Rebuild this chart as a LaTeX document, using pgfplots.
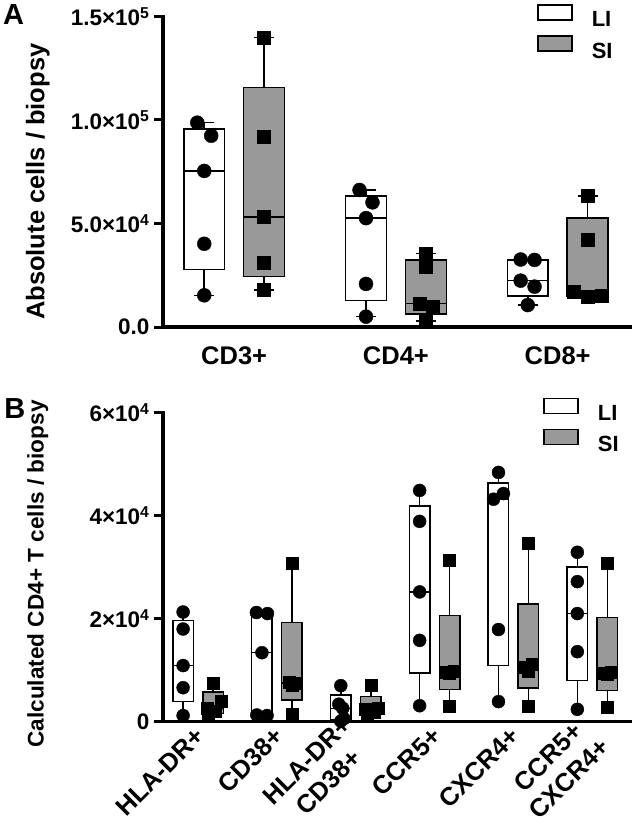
\documentclass[border=0pt]{standalone}
\usepackage{fontspec}
\setmainfont{Liberation Sans}
\usepackage{pgfplots}
\pgfplotsset{compat=1.18}
\definecolor{sigray}{RGB}{153,153,153}
\newcommand\tickfont{\fontsize{22.5}{24}\selectfont\bfseries}
\newcommand\legfont{\fontsize{22}{24}\selectfont\bfseries}
\newcommand\catfont{\fontsize{25.5}{30}\selectfont\bfseries}
\pgfplotsset{
  panel/.style={
    scale only axis, width=467pt,
    axis lines=left,
    axis line style={-, line width=3.5pt, line cap=rect},
    tick align=outside,
    major tick length=9pt,
    ytick style={line width=3pt, black},
    xtick style={draw=none},
    scaled y ticks=false,
    clip=false,
    unbounded coords=jump,
    yticklabel style={font=\tickfont, xshift=-1pt},
    xticklabel style={font=\catfont},
    legend cell align=left,
    legend style={draw=none, fill=none, font=\legfont, inner sep=0pt,
      row sep=7pt, anchor=north west,
      nodes={inner sep=0pt, outer sep=0pt}},
    /tikz/every odd column/.append style={column sep=19pt},
  },
  LIbox/.style={draw=black, fill=white, line width=1.5pt, forget plot, solid, mark=none},
  SIbox/.style={draw=black, fill=sigray, line width=1.5pt, forget plot, solid, mark=none},
  wline/.style={draw=black, line width=1.5pt, forget plot, solid, mark=none},
  LIleg/.style={legend image code/.code={\draw[black,line width=1.5pt,fill=white] (0pt,0pt) rectangle (34pt,15pt);}},
  SIleg/.style={legend image code/.code={\draw[black,line width=1.5pt,fill=sigray] (0pt,0pt) rectangle (34pt,15pt);}},
}
\begin{document}
\begin{tikzpicture}
\useasboundingbox (-163pt,-508pt) rectangle (470pt,327pt);
% ---------------- Panel A (values in thousands of cells) ----------------
\begin{axis}[panel, height=310.5pt, at={(0pt,0pt)}, anchor=south west,
  xmin=-0.44, xmax=2.447, ymin=0, ymax=150,
  xtick={0,1,2}, xticklabels={CD3+, CD4+, CD8+},
  xticklabel style={yshift=-7pt},
  ytick={0,50,100,150},
  yticklabels={0.0, 5.0×10\textsuperscript{4}, 1.0×10\textsuperscript{5}, 1.5×10\textsuperscript{5}},
  ylabel={Absolute cells / biopsy},
  ylabel style={font=\fontsize{25.5}{27}\selectfont\bfseries, at={(axis description cs:-0.268,0.468)}, anchor=center},
  legend style={at={(axis description cs:0.801,1.040)}},
]
\addlegendimage{LIleg}\addlegendentry{LI}
\addlegendimage{SIleg}\addlegendentry{SI}
% whiskers (min to max) with caps
\addplot[wline] coordinates {
 (-0.185,15.3) (-0.185,27.8) (nan,nan) (-0.185,95.6) (-0.185,98.7) (nan,nan)
 (-0.247,15.3) (-0.123,15.3) (nan,nan) (-0.247,98.7) (-0.123,98.7) (nan,nan)
 (0.185,17.9) (0.185,24.4) (nan,nan) (0.185,115.8) (0.185,139.8) (nan,nan)
 (0.123,17.9) (0.247,17.9) (nan,nan) (0.123,139.8) (0.247,139.8) (nan,nan)
 (0.815,5.0) (0.815,12.9) (nan,nan) (0.815,63.2) (0.815,66.2) (nan,nan)
 (0.753,5.0) (0.877,5.0) (nan,nan) (0.753,66.2) (0.877,66.2) (nan,nan)
 (1.185,2.9) (1.185,6.4) (nan,nan) (1.185,32.4) (1.185,35.6) (nan,nan)
 (1.123,2.9) (1.247,2.9) (nan,nan) (1.123,35.6) (1.247,35.6) (nan,nan)
 (1.815,10.6) (1.815,15.0) (nan,nan) (1.753,10.6) (1.877,10.6) (nan,nan)
 (1.753,32.6) (1.877,32.6) (nan,nan)
 (2.185,52.65) (2.185,63.3) (nan,nan) (2.123,63.3) (2.247,63.3) (nan,nan)
 (2.123,14.6) (2.247,14.6)};
% boxes (lower quartile to upper quartile)
\addplot[LIbox] coordinates {(-0.3115,27.8) (-0.0585,27.8) (-0.0585,95.6) (-0.3115,95.6)} --cycle;
\addplot[SIbox] coordinates {(0.0585,24.4) (0.3115,24.4) (0.3115,115.8) (0.0585,115.8)} --cycle;
\addplot[LIbox] coordinates {(0.6885,12.9) (0.9415,12.9) (0.9415,63.2) (0.6885,63.2)} --cycle;
\addplot[SIbox] coordinates {(1.0585,6.4) (1.3115,6.4) (1.3115,32.4) (1.0585,32.4)} --cycle;
\addplot[LIbox] coordinates {(1.6885,15.0) (1.9415,15.0) (1.9415,32.45) (1.6885,32.45)} --cycle;
\addplot[SIbox] coordinates {(2.0585,14.85) (2.3115,14.85) (2.3115,52.65) (2.0585,52.65)} --cycle;
% medians
\addplot[wline] coordinates {
 (-0.3115,75.4) (-0.0585,75.4) (nan,nan) (0.0585,53.1) (0.3115,53.1) (nan,nan)
 (0.6885,52.6) (0.9415,52.6) (nan,nan) (1.0585,11.4) (1.3115,11.4) (nan,nan)
 (1.6885,22.4) (1.9415,22.4) (nan,nan) (2.0585,17.1) (2.3115,17.1)};
% points LI
\addplot[only marks, mark=*, mark size=7pt, black, forget plot] coordinates {
 (-0.228,98.7) (-0.142,92.4) (-0.185,75.4) (-0.185,40.2) (-0.185,15.3)
 (0.775,66.2) (0.855,60.2) (0.815,52.6) (0.815,20.8) (0.815,5.0)
 (1.771,32.6) (1.857,32.4) (1.771,22.4) (1.857,19.5) (1.815,10.6)};
% points SI
\addplot[only marks, mark=square*, mark size=6.5pt, black, forget plot] coordinates {
 (0.185,139.8) (0.185,91.9) (0.185,53.1) (0.185,30.9) (0.185,17.9)
 (1.185,35.6) (1.185,29.2) (1.144,11.4) (1.230,9.8) (1.185,2.9)
 (2.185,63.3) (2.185,42.0) (2.101,17.1) (2.185,14.6) (2.272,15.1)};
\node[font=\fontsize{29}{30}\selectfont\bfseries] at (axis description cs:-0.32,1.006) {A};
\end{axis}
% ---------------- Panel B (values in thousands of cells) ----------------
\begin{axis}[panel, height=309pt, at={(0pt,-394.7pt)}, anchor=south west,
  xmin=-0.445, xmax=5.478, ymin=0, ymax=60,
  xtick={0,1,2,3,4,5},
  xticklabels={HLA-DR+, CD38+, {HLA-DR+\\CD38+}, CCR5+, CXCR4+, {CCR5+\\CXCR4+}},
  xticklabel style={rotate=45, anchor=east, align=center, yshift=-2pt, xshift=4pt},
  ytick={0,20,40,60},
  yticklabels={0, 2×10\textsuperscript{4}, 4×10\textsuperscript{4}, 6×10\textsuperscript{4}},
  ylabel={Calculated CD4+ T cells / biopsy},
  ylabel style={font=\fontsize{22.6}{24}\selectfont\bfseries, at={(axis description cs:-0.268,0.478)}, anchor=center},
  legend style={at={(axis description cs:0.814,1.049)}},
]
\addlegendimage{LIleg}\addlegendentry{LI}
\addlegendimage{SIleg}\addlegendentry{SI}
% whiskers (min to max)
\addplot[wline] coordinates {
 (-0.19,1.2) (-0.19,3.9) (nan,nan) (-0.19,19.65) (-0.19,21.3) (nan,nan)
 (0.19,1.2) (0.19,1.6) (nan,nan) (0.19,5.75) (0.19,7.5) (nan,nan)
 (1.19,1.5) (1.19,4.25) (nan,nan) (1.19,19.25) (1.19,30.8) (nan,nan)
 (1.81,5.2) (1.81,7.0) (nan,nan) (2.19,4.9) (2.19,7.1) (nan,nan)
 (2.81,3.1) (2.81,9.45) (nan,nan) (2.81,41.9) (2.81,44.9) (nan,nan)
 (3.19,3.1) (3.19,6.3) (nan,nan) (3.19,20.65) (3.19,31.4) (nan,nan)
 (3.81,3.9) (3.81,10.9) (nan,nan) (3.81,46.35) (3.81,48.4) (nan,nan)
 (4.19,3.1) (4.19,6.5) (nan,nan) (4.19,22.9) (4.19,34.7) (nan,nan)
 (4.81,2.4) (4.81,8.0) (nan,nan) (4.81,30.05) (4.81,32.9) (nan,nan)
 (5.19,2.9) (5.19,6.1) (nan,nan) (5.19,20.2) (5.19,30.8)};
% boxes
\addplot[LIbox] coordinates {(-0.32,3.9) (-0.06,3.9) (-0.06,19.65) (-0.32,19.65)} --cycle;
\addplot[SIbox] coordinates {(0.06,1.6) (0.32,1.6) (0.32,5.75) (0.06,5.75)} --cycle;
\addplot[LIbox] coordinates {(0.68,1.25) (0.94,1.25) (0.94,21.1) (0.68,21.1)} --cycle;
\addplot[SIbox] coordinates {(1.06,4.25) (1.32,4.25) (1.32,19.25) (1.06,19.25)} --cycle;
\addplot[LIbox] coordinates {(1.68,0.35) (1.94,0.35) (1.94,5.2) (1.68,5.2)} --cycle;
\addplot[SIbox] coordinates {(2.06,1.5) (2.32,1.5) (2.32,4.9) (2.06,4.9)} --cycle;
\addplot[LIbox] coordinates {(2.68,9.45) (2.94,9.45) (2.94,41.9) (2.68,41.9)} --cycle;
\addplot[SIbox] coordinates {(3.06,6.3) (3.32,6.3) (3.32,20.65) (3.06,20.65)} --cycle;
\addplot[LIbox] coordinates {(3.68,10.9) (3.94,10.9) (3.94,46.35) (3.68,46.35)} --cycle;
\addplot[SIbox] coordinates {(4.06,6.5) (4.32,6.5) (4.32,22.9) (4.06,22.9)} --cycle;
\addplot[LIbox] coordinates {(4.68,8.0) (4.94,8.0) (4.94,30.05) (4.68,30.05)} --cycle;
\addplot[SIbox] coordinates {(5.06,6.1) (5.32,6.1) (5.32,20.2) (5.06,20.2)} --cycle;
% medians
\addplot[wline] coordinates {
 (-0.32,10.9) (-0.06,10.9) (nan,nan) (0.06,2.6) (0.32,2.6) (nan,nan)
 (0.68,13.4) (0.94,13.4) (nan,nan) (1.06,7.5) (1.32,7.5) (nan,nan)
 (1.68,2.6) (1.94,2.6) (nan,nan) (2.06,2.4) (2.32,2.4) (nan,nan)
 (2.68,25.2) (2.94,25.2) (nan,nan) (3.06,9.7) (3.32,9.7) (nan,nan)
 (3.68,43.2) (3.94,43.2) (nan,nan) (4.06,10.5) (4.32,10.5) (nan,nan)
 (4.68,21.0) (4.94,21.0) (nan,nan) (5.06,9.5) (5.32,9.5)};
% points LI
\addplot[only marks, mark=*, mark size=6.5pt, black, forget plot] coordinates {
 (-0.19,21.3) (-0.19,18.0) (-0.19,10.9) (-0.19,6.6) (-0.19,1.2)
 (0.74,21.2) (0.88,21.0) (0.81,13.4) (0.745,1.3) (0.875,1.2)
 (1.81,7.0) (1.785,3.4) (1.835,2.6) (1.85,0.6) (1.81,0.1)
 (2.81,44.9) (2.81,38.9) (2.81,25.2) (2.81,15.8) (2.81,3.1)
 (3.81,48.4) (3.873,44.3) (3.747,43.2) (3.81,17.9) (3.81,3.9)
 (4.81,32.9) (4.81,27.2) (4.81,21.0) (4.81,13.6) (4.81,2.4)};
% points SI
\addplot[only marks, mark=square*, mark size=6pt, black, forget plot] coordinates {
 (0.19,7.5) (0.29,4.0) (0.115,2.6) (0.215,2.0) (0.13,1.2)
 (1.19,30.8) (1.15,7.7) (1.23,7.5) (1.19,7.0) (1.19,1.5)
 (2.19,7.1) (2.28,2.7) (2.115,2.4) (2.23,1.8) (2.15,1.2)
 (3.19,31.4) (3.25,9.9) (3.13,9.7) (3.19,9.5) (3.19,3.1)
 (4.19,34.7) (4.24,11.1) (4.14,10.5) (4.19,9.9) (4.19,3.1)
 (5.19,30.8) (5.24,9.6) (5.14,9.5) (5.19,9.3) (5.19,2.9)};
\node[font=\fontsize{29}{30}\selectfont\bfseries] at (axis description cs:-0.317,1.013) {B};
\end{axis}
\end{tikzpicture}
\end{document}
